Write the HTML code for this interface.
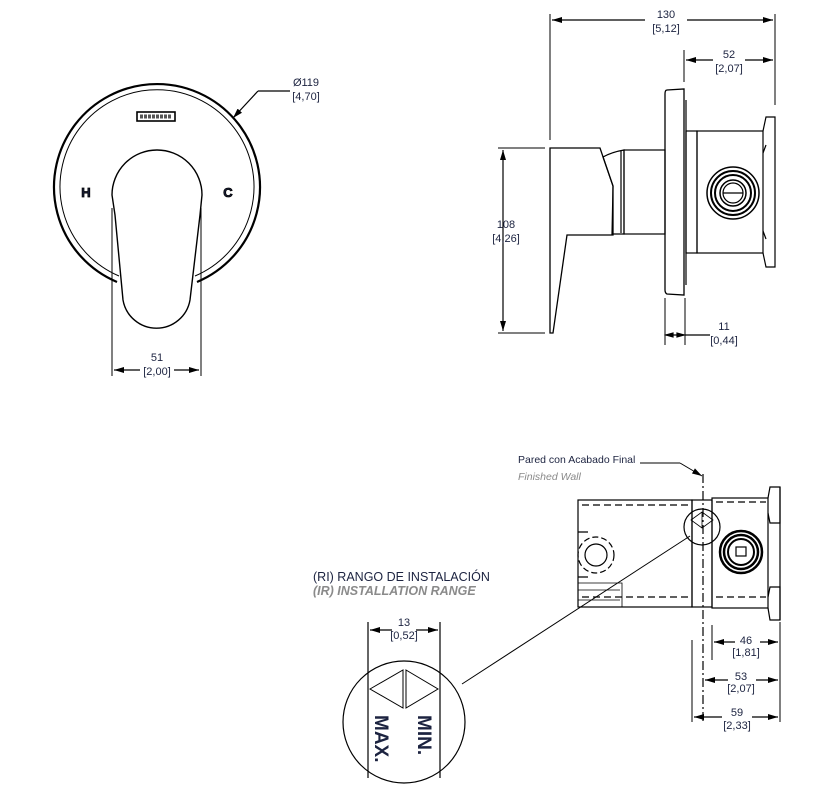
<!DOCTYPE html>
<html><head><meta charset="utf-8"><style>
html,body{margin:0;padding:0;background:#fff}
svg{display:block}
text{font-family:"Liberation Sans",sans-serif;fill:#1c2340}
.n{font-size:11px}
.g{fill:#8a8a8a;font-style:italic}
</style></head><body>
<svg width="823" height="795" viewBox="0 0 823 795" xmlns="http://www.w3.org/2000/svg">
<defs>
<marker id="a" viewBox="0 0 10 6" refX="10" refY="3" markerWidth="10" markerHeight="6" orient="auto-start-reverse" markerUnits="userSpaceOnUse"><path d="M0,0 L10,3 L0,6z" fill="#000"/></marker>
</defs>
<g fill="none" stroke="#000" stroke-width="1.2">
<!-- FRONT VIEW -->
<path d="M117,282 A103,103 0 1 1 197,282" stroke-width="2.2"/>
<path d="M119,276 A97,97 0 1 1 195,276" stroke-width="1"/>
<rect x="137" y="112" width="38" height="9" stroke-width="1.6"/>
<path d="M140,116.5 H172" stroke-width="4" stroke-dasharray="3,1" stroke="#555"/>
<path d="M112,195 A45,45 0 0 1 202,195 L200,215 L190,300 A34,34 0 0 1 123,300 L115,215 Z" stroke-width="1.4"/>
<line x1="112" y1="208" x2="112" y2="376" stroke-width="1"/>
<line x1="201" y1="208" x2="201" y2="376" stroke-width="1"/>
<line x1="114" y1="370" x2="140" y2="370" marker-start="url(#a)"/>
<line x1="174" y1="370" x2="199" y2="370" marker-end="url(#a)"/>
<line x1="258" y1="91" x2="233" y2="118" marker-end="url(#a)"/>
<line x1="258" y1="91" x2="290" y2="91"/>

<!-- SIDE VIEW -->
<line x1="550" y1="14" x2="550" y2="140" stroke-width="1"/>
<line x1="775" y1="14" x2="775" y2="105" stroke-width="1"/>
<line x1="552" y1="20" x2="645" y2="20" marker-start="url(#a)"/>
<line x1="687" y1="20" x2="773" y2="20" marker-end="url(#a)"/>
<line x1="684" y1="50" x2="684" y2="82" stroke-width="1"/>
<line x1="686" y1="60" x2="713" y2="60" marker-start="url(#a)"/>
<line x1="745" y1="60" x2="773" y2="60" marker-end="url(#a)"/>
<line x1="498" y1="148" x2="545" y2="148" stroke-width="1"/>
<line x1="498" y1="333" x2="545" y2="333" stroke-width="1"/>
<line x1="503" y1="150" x2="503" y2="331" marker-start="url(#a)" marker-end="url(#a)"/>
<path d="M550,148 L600,148 L613,186 L613,235 L567,235 L553,333 L550,333 Z" stroke-width="1.3"/>
<path d="M603,157 Q612,152 624,150 L624,234 L612,234 L613,186 Z"/>
<line x1="621" y1="151" x2="621" y2="233"/>
<rect x="624" y="150" width="41" height="84"/>
<path d="M667,90 L684,89 L684,295 L667,294 Q665,293 665,290 L665,94 Q665,90 667,90 Z" stroke-width="1.3"/>
<line x1="686" y1="100" x2="686" y2="285"/>
<rect x="686" y="131" width="11" height="122"/>
<rect x="697" y="131" width="66" height="122"/>
<path d="M763,131 L766,117 L775,117 L775,267 L766,267 L763,253 M766,145 L763,153 M766,239 L763,231"/>
<circle cx="733" cy="193" r="26" stroke-width="1.5"/>
<circle cx="733" cy="193" r="22" stroke-width="2"/>
<circle cx="733" cy="193" r="18" stroke-width="2"/>
<circle cx="733" cy="193" r="13" stroke-width="1.5"/>
<circle cx="733" cy="193" r="10"/>
<line x1="723" y1="193" x2="743" y2="193"/>
<line x1="665" y1="298" x2="665" y2="345" stroke-width="1"/>
<line x1="685" y1="298" x2="685" y2="345" stroke-width="1"/>
<line x1="666" y1="335" x2="684" y2="335"/>
<line x1="685" y1="335" x2="710" y2="335"/>
<path d="M666,335 l7,-2 v4z M684,335 l-7,-2 v4z" fill="#000"/>

<!-- BOTTOM VIEW -->
<rect x="578" y="500" width="114" height="107"/>
<rect x="692" y="500" width="20" height="107"/>
<rect x="712" y="498" width="56" height="110"/>
<path d="M768,498 L770,487 L780,487 L780,523 L770,523 L768,513 M768,597 L770,587 L780,587 L780,620 L770,620 L768,608"/>
<line x1="780" y1="487" x2="780" y2="620"/>
<path d="M582,505 H690 M716,502 H766 M716,597 H766 M582,597 H690" stroke-dasharray="7,4"/>
<line x1="703" y1="474" x2="703" y2="722" stroke-dasharray="9,3,2,3"/>
<path d="M578,532 H588 M578,577 H588"/>
<circle cx="596" cy="555" r="11"/>
<circle cx="596" cy="555" r="18" stroke-dasharray="6,3"/>
<path d="M578,583 H622 V607 M578,590 H620 M578,600 H620" stroke-width="0.8"/>
<circle cx="741" cy="552" r="21" stroke-width="2.5"/>
<circle cx="741" cy="552" r="17" stroke-width="2.5"/>
<circle cx="741" cy="552" r="13" stroke-width="2"/>
<rect x="736" y="547" width="10" height="9"/>
<circle cx="702" cy="527" r="18"/>
<path d="M691,520 L702,512 L713,520 L702,528 Z M702,512 V528" stroke-width="0.8"/>
<line x1="690" y1="536" x2="462" y2="684" stroke-width="1"/>
<line x1="640" y1="463" x2="680" y2="463" stroke-width="1"/>
<line x1="680" y1="463" x2="702" y2="476" stroke-width="1" marker-end="url(#a)"/>
<line x1="712" y1="625" x2="712" y2="660" stroke-width="1"/>
<line x1="692" y1="640" x2="692" y2="722" stroke-width="1"/>
<line x1="780" y1="622" x2="780" y2="722" stroke-width="1"/>
<line x1="714" y1="642" x2="735" y2="642" marker-start="url(#a)"/>
<line x1="760" y1="642" x2="778" y2="642" marker-end="url(#a)"/>
<line x1="705" y1="680" x2="728" y2="680" marker-start="url(#a)"/>
<line x1="756" y1="680" x2="778" y2="680" marker-end="url(#a)"/>
<line x1="694" y1="717" x2="722" y2="717" marker-start="url(#a)"/>
<line x1="752" y1="717" x2="778" y2="717" marker-end="url(#a)"/>

<!-- DETAIL -->
<circle cx="404" cy="722" r="61"/>
<line x1="368" y1="622" x2="368" y2="778"/>
<line x1="440" y1="622" x2="440" y2="778"/>
<line x1="370" y1="630" x2="392" y2="630" marker-start="url(#a)"/>
<line x1="416" y1="630" x2="438" y2="630" marker-end="url(#a)"/>
<path d="M370,689 L403,670 L403,708 Z M406,670 L438,689 L406,708 Z" stroke-width="1"/>
</g>
<g text-anchor="middle">
<text x="86" y="197" font-size="13" font-weight="bold" fill="none" stroke="#000" stroke-width="0.8">H</text>
<text x="228" y="197" font-size="13" font-weight="bold" fill="none" stroke="#000" stroke-width="0.8">C</text>
<text class="n" x="157" y="361">51</text><text class="n" x="157" y="375">[2,00]</text>
<text class="n" x="306" y="86">Ø119</text><text class="n" x="306" y="100">[4,70]</text>
<text class="n" x="666" y="18">130</text><text class="n" x="666" y="32">[5,12]</text>
<text class="n" x="729" y="58">52</text><text class="n" x="729" y="72">[2,07]</text>
<text class="n" x="506" y="228">108</text><text class="n" x="506" y="242">[4,26]</text>
<text class="n" x="724" y="330">11</text><text class="n" x="724" y="344">[0,44]</text>
<text class="n" x="746" y="644">46</text><text class="n" x="746" y="656">[1,81]</text>
<text class="n" x="741" y="680">53</text><text class="n" x="741" y="692">[2,07]</text>
<text class="n" x="737" y="716">59</text><text class="n" x="737" y="729">[2,33]</text>
<text class="n" x="404" y="626">13</text><text class="n" x="404" y="639">[0,52]</text>
</g>
<text x="518" y="463" font-size="10.5">Pared con Acabado Final</text>
<text x="518" y="480" font-size="10.5" class="g">Finished Wall</text>
<text x="313" y="581" font-size="12.5">(RI)  RANGO DE INSTALACIÓN</text>
<text x="313" y="595" font-size="12.5" class="g" font-weight="bold">(IR)  INSTALLATION RANGE</text>
<text transform="translate(375,715) rotate(90)" font-size="19" font-weight="bold" fill="#000">MAX.</text>
<text transform="translate(418,715) rotate(90)" font-size="19" font-weight="bold" fill="#000">MIN.</text>
</svg>
</body></html>
